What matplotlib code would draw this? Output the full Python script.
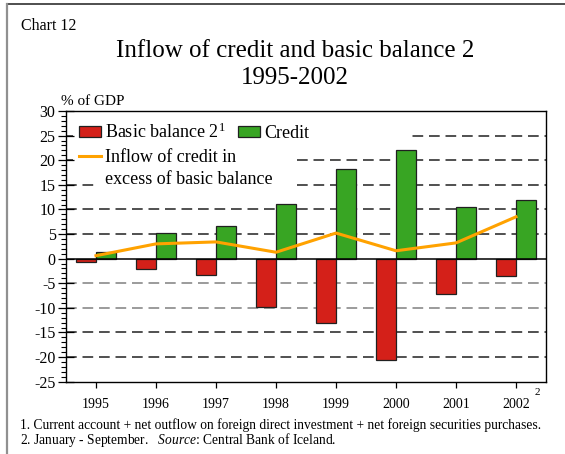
import numpy as np
import matplotlib.pyplot as plt
from matplotlib.patches import Patch, Rectangle
from matplotlib.lines import Line2D
from matplotlib.ticker import MultipleLocator

plt.rcParams['font.family'] = 'Liberation Serif'
plt.rcParams['mathtext.fontset'] = 'custom'
plt.rcParams['mathtext.rm'] = 'Liberation Serif'
plt.rcParams['mathtext.it'] = 'Liberation Serif:italic'
plt.rcParams['axes.unicode_minus'] = False

years = ['1995', '1996', '1997', '1998', '1999', '2000', '2001', '2002']
basic_balance = [-0.7, -2.2, -3.3, -9.8, -13.0, -20.5, -7.1, -3.5]
credit = [1.3, 5.2, 6.7, 11.2, 18.2, 22.0, 10.4, 12.0]
excess = [0.6, 3.0, 3.4, 1.3, 5.2, 1.6, 3.2, 8.5]

red = '#d42019'
green = '#38a523'
orange = '#ffa200'

fig = plt.figure(figsize=(5.65, 4.54), dpi=100)
ax = fig.add_axes([0.1168, 0.1593, 0.8496, 0.5962])

x = np.arange(len(years))
w = 1 / 3

# dashed grid, lower two lines lighter
for lev in [25, 20, 15, 10, 5, -5, -10, -15, -20]:
    col = '#808080' if lev in (-5, -10) else '#202020'
    ax.axhline(lev, color=col, lw=1.1, ls=(0, (7, 3.8)), zorder=0.5)

# white patches behind the legend text
for x0, x1, y0, y1 in [(0.015, 0.71, 0.88, 0.97), (0.015, 0.477, 0.795, 0.88),
                       (0.067, 0.473, 0.70, 0.795)]:
    ax.add_patch(Rectangle((x0, y0), x1 - x0, y1 - y0, transform=ax.transAxes,
                           facecolor='white', edgecolor='none', zorder=1))

ax.axhline(0, color='black', lw=1.1, zorder=3)
ax.bar(x - w / 2, basic_balance, w, color=red, edgecolor='#202020', lw=0.9, zorder=2)
ax.bar(x + w / 2, credit, w, color=green, edgecolor='#202020', lw=0.9, zorder=2)
ax.plot(x, excess, color=orange, lw=2.2, zorder=4)

ax.set_xlim(-0.5, 7.5)
ax.set_ylim(-25, 30)
ax.set_xticks(x)
ax.set_xticklabels(years, fontsize=10)
ax.yaxis.set_major_locator(MultipleLocator(5))
ax.yaxis.set_minor_locator(MultipleLocator(1))
ax.tick_params(axis='y', which='major', direction='inout', length=11, width=0.9,
               labelsize=11.5, pad=2)
ax.tick_params(axis='y', which='minor', direction='out', length=3.5, width=0.8)
ax.tick_params(axis='x', direction='out', length=4.5, width=0.9, pad=7)
for s in ax.spines.values():
    s.set_linewidth(1.0)

leg1 = ax.legend([Patch(facecolor=red, edgecolor='#202020', lw=0.9),
                  Patch(facecolor=green, edgecolor='#202020', lw=0.9)],
                 ['Basic balance 2$^1$', 'Credit'], ncol=2, loc='center left',
                 bbox_to_anchor=(0.027, 0.922), frameon=False, fontsize=13,
                 borderpad=0, borderaxespad=0, handlelength=1.2, handleheight=0.55,
                 handletextpad=0.25, columnspacing=0.7)
ax.add_artist(leg1)
leg1.set_zorder(5)
leg2 = ax.legend([Line2D([], [], color=orange, lw=2.2), Line2D([], [], color='none')],
                 ['Inflow of credit in', 'excess of basic balance'], loc='center left',
                 bbox_to_anchor=(0.027, 0.787), frameon=False, fontsize=13,
                 borderpad=0, borderaxespad=0, handlelength=1.2,
                 handletextpad=0.25, labelspacing=0.3)
leg2.set_zorder(5)

ax.annotate('2', xy=(7, 0), xycoords=('data', 'axes fraction'), xytext=(15, -8),
            textcoords='offset points', fontsize=8, ha='center', va='center')

fig.text(0.037, 0.943, 'Chart 12', fontsize=11.5, va='center')
fig.text(0.522, 0.887, 'Inflow of credit and basic balance 2', fontsize=18,
         ha='center', va='center')
fig.text(0.522, 0.828, '1995-2002', fontsize=18, ha='center', va='center')
fig.text(0.108, 0.776, '% of GDP', fontsize=11, va='center')
fig.text(0.035, 0.064, '1. Current account + net outflow on foreign direct investment'
         ' + net foreign securities purchases.', fontsize=9.75, va='center')
fig.text(0.035, 0.031, r'2. January - September.   $\mathit{Source}$: Central Bank of Iceland.',
         fontsize=9.75, va='center')

# page frame, top and left edges
fig.add_artist(Line2D([0.0124, 1], [0.9912, 0.9912], transform=fig.transFigure,
                      color='#404040', lw=1.3))
fig.add_artist(Line2D([0.0124, 0.0124], [0, 0.9912], transform=fig.transFigure,
                      color='#909090', lw=1.6))

fig.savefig('out.png', dpi=100)
